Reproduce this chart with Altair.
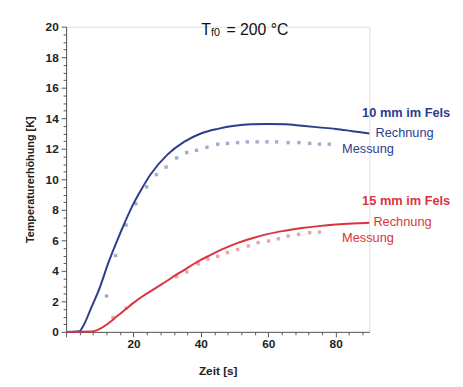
import altair as alt
import pandas as pd

# ---- data ----
blue_calc_t = [0, 4, 5, 7.5, 10, 12.5, 15, 17.5, 20, 22.5, 25, 30, 35, 40, 45, 50, 55, 60, 65, 70, 75, 80, 85, 90]
blue_calc_v = [0, 0.05, 0.35, 1.6, 2.9, 4.5, 5.9, 7.2, 8.4, 9.4, 10.3, 11.6, 12.45, 13.0, 13.3, 13.5, 13.6, 13.62, 13.6, 13.5, 13.4, 13.3, 13.15, 13.0]

blue_meas_t = [12, 14.7, 17.8, 20.7, 23.9, 26.8, 29.7, 32.8, 35.8, 38.7, 41.8, 45, 47.9, 50.9, 53.8, 56.7, 59.6, 62.5, 65.9, 69.1, 72.3, 75.2, 78.1]
blue_meas_v = [2.35, 5.0, 7.0, 8.4, 9.5, 10.3, 10.8, 11.4, 11.75, 11.9, 12.1, 12.3, 12.35, 12.4, 12.45, 12.45, 12.45, 12.45, 12.4, 12.4, 12.35, 12.3, 12.3]

red_calc_t = [0, 7.5, 10, 12.5, 15, 17.5, 20, 22.5, 25, 27.5, 30, 32.5, 35, 37.5, 40, 42.5, 45, 47.5, 50, 55, 60, 65, 70, 75, 80, 85, 90]
red_calc_v = [0, 0.02, 0.2, 0.55, 1.0, 1.45, 1.9, 2.3, 2.65, 3.0, 3.35, 3.72, 4.05, 4.4, 4.72, 5.0, 5.27, 5.52, 5.75, 6.12, 6.42, 6.63, 6.8, 6.93, 7.03, 7.1, 7.15]

red_meas_t = [13.9, 17.8, 32.8, 35.8, 39.2, 42.1, 45, 47.9, 50.9, 54.1, 57, 60.1, 63, 65.9, 69, 72.3, 75.2]
red_meas_v = [0.95, 1.55, 3.62, 3.93, 4.45, 4.77, 4.95, 5.2, 5.4, 5.63, 5.85, 5.95, 6.1, 6.28, 6.39, 6.5, 6.54]

# annotation texts and their anchor positions (data units)
head_texts = ["10 mm im Fels", "15 mm im Fels"]
head_x = [114.0, 114.0]
head_y = [14.34, 8.54]
calc_label_x = [91.8, 91.2]
calc_label_y = [13.05, 7.18]
meas_label_x = [81.9, 81.9]
meas_label_y = [11.98, 6.17]

BLUE = "#2c3d8f"
RED = "#d8343e"
BLUE_PT = "#98a3c6"
RED_PT = "#e89aa5"
FONT = "Liberation Sans"

x_scale = alt.Scale(domain=[0, 90], nice=False, zero=False)
y_scale = alt.Scale(domain=[0, 20], nice=False)

x_axis = alt.Axis(
    title="Zeit [s]",
    values=list(range(0, 91, 4)),
    labelExpr="(datum.value % 20 === 0 && datum.value > 0) ? format(datum.value, 'd') : ''",
    labelOverlap=False,
    labelFlush=False,
    grid=False,
    tickSize={"condition": {"test": "datum.value % 20 === 0", "value": 5}, "value": 3},
    tickColor="#555", domainColor="#555",
    labelFont=FONT, labelFontSize=12, labelFontWeight="bold", labelColor="#222",
    labelPadding=2,
    titleFont=FONT, titleFontSize=12, titleFontWeight="bold", titleColor="#222",
    titlePadding=16,
)
y_axis = alt.Axis(
    title="Temperaturerhöhung [K]",
    values=[i * 0.5 for i in range(41)],
    labelExpr="datum.value % 2 === 0 ? format(datum.value, 'd') : ''",
    labelOverlap=False,
    labelFlush=False,
    grid=False,
    tickSize={"condition": {"test": "datum.value % 2 === 0", "value": 5}, "value": 3},
    tickColor="#555", domainColor="#555",
    labelFont=FONT, labelFontSize=12, labelFontWeight="bold", labelColor="#222",
    labelPadding=3,
    titleFont=FONT, titleFontSize=11, titleFontWeight="bold", titleColor="#222",
    titlePadding=10,
)

def df(t, v):
    return pd.DataFrame({"t": t, "v": v})

X = alt.X("t:Q", scale=x_scale, axis=x_axis)
Y = alt.Y("v:Q", scale=y_scale, axis=y_axis)

blue_line = alt.Chart(df(blue_calc_t, blue_calc_v)).mark_line(
    color=BLUE, strokeWidth=2, interpolate="monotone", clip=False
).encode(x=X, y=Y)

red_line = alt.Chart(df(red_calc_t, red_calc_v)).mark_line(
    color=RED, strokeWidth=2, interpolate="monotone", clip=False
).encode(x=X, y=Y)

blue_pts = alt.Chart(df(blue_meas_t, blue_meas_v)).mark_square(
    color=BLUE_PT, size=12, opacity=0.9
).encode(x=X, y=Y)

red_pts = alt.Chart(df(red_meas_t, red_meas_v)).mark_square(
    color=RED_PT, size=12, opacity=0.9
).encode(x=X, y=Y)

heads = pd.DataFrame({"t": head_x, "v": head_y, "txt": head_texts, "c": [BLUE, RED]})
calc_lbl = pd.DataFrame({"t": calc_label_x, "v": calc_label_y, "txt": ["Rechnung", "Rechnung"], "c": [BLUE, RED]})
meas_lbl = pd.DataFrame({"t": meas_label_x, "v": meas_label_y, "txt": ["Messung", "Messung"], "c": [BLUE, RED]})

head_text = alt.Chart(heads).mark_text(
    align="right", baseline="middle", font=FONT, fontSize=13, fontWeight="bold"
).encode(x=X, y=Y, text="txt:N", color=alt.Color("c:N", scale=None))

calc_text = alt.Chart(calc_lbl).mark_text(
    align="left", baseline="middle", font=FONT, fontSize=13
).encode(x=X, y=Y, text="txt:N", color=alt.Color("c:N", scale=None))

meas_text = alt.Chart(meas_lbl).mark_text(
    align="left", baseline="middle", font=FONT, fontSize=13
).encode(x=X, y=Y, text="txt:N", color=alt.Color("c:N", scale=None))

# title "T_f0 = 200 °C" built from three text pieces
title_parts = pd.DataFrame({
    "t": [40.1, 43.0, 47.6],
    "v": [19.8, 19.55, 19.8],
    "txt": ["T", "f0", "= 200 °C"],
    "fs": [16, 11, 16],
})
title_text = alt.Chart(title_parts).mark_text(
    align="left", baseline="middle", font=FONT, color="#111"
).encode(x=X, y=Y, text="txt:N", size=alt.Size("fs:Q", scale=None, legend=None))

chart = alt.layer(
    blue_pts, red_pts, blue_line, red_line, head_text, calc_text, meas_text, title_text
).properties(
    width=308, height=310,
    padding={"left": 59, "top": 16, "right": 87, "bottom": 50},
    autosize="none",
).configure_view(stroke=None).configure(font=FONT)

chart.save("out.html", embed_options={"renderer": "svg", "actions": False})
